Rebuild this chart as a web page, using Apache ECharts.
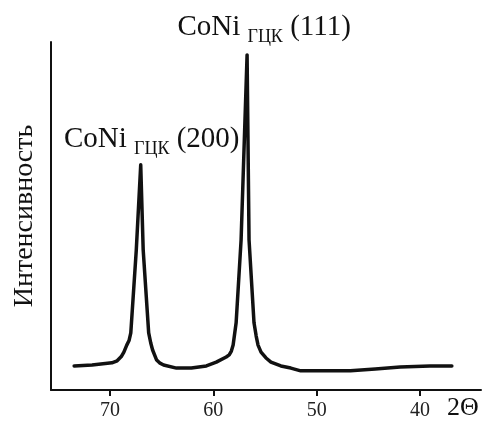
<!DOCTYPE html>
<html>
<head>
<meta charset="utf-8">
<script src="https://cdn.jsdelivr.net/npm/echarts@6/dist/echarts.min.js"></script>
<style>
  html, body { margin: 0; padding: 0; background: #fff; }
  #chart { width: 486px; height: 423px; }
</style>
</head>
<body>
<div id="chart"></div>
<script>
// 2θ (deg) and intensity (arb. units)
const twoTheta = [73.46, 71.73, 69.81, 69.3, 68.9, 68.65, 68.37, 68.15, 67.98, 67.45, 67.02, 66.78, 66.25, 66.05, 65.87, 65.48, 65.2, 64.81, 63.56, 62.12, 60.67, 59.71, 58.75, 58.46, 58.25, 58.08, 57.79, 57.31, 56.73, 56.54, 56.06, 55.85, 55.67, 55.38, 54.9, 54.42, 53.46, 52.5, 51.54, 46.73, 44.33, 41.92, 39.04, 36.92];
const intensity = [6.9, 7.2, 7.8, 8.4, 9.6, 10.9, 12.9, 14.2, 16.4, 40.2, 64.7, 40.2, 16.4, 13.5, 11.5, 8.6, 7.8, 7.2, 6.3, 6.3, 6.9, 8.0, 9.5, 10.1, 11.2, 12.9, 19.3, 43.1, 96.3, 43.1, 19.3, 15.5, 12.9, 10.9, 9.2, 8.0, 6.9, 6.3, 5.5, 5.5, 6.0, 6.6, 6.9, 6.9];
const xTicks = [40, 50, 60, 70];

// peak annotations: [2θ, intensity, hkl]
const peaks = [
  [67.02, 64.7, '(200)'],
  [56.73, 96.3, '(111)']
];

const serif = '"Liberation Serif", "DejaVu Serif", serif';
const ink = '#111';

const chart = echarts.init(document.getElementById('chart'));

const labelRich = {
  a: { fontFamily: serif, fontSize: 29, color: ink, lineHeight: 36 },
  b: { fontFamily: serif, fontSize: 18, color: ink, verticalAlign: 'bottom' }
};

chart.setOption({
  animation: false,
  grid: { left: 51, right: 5, top: 42, bottom: 33 },
  xAxis: {
    type: 'value',
    inverse: true,
    min: 34.1,
    max: 75.7,
    name: '2Θ',
    nameLocation: 'start',
    nameGap: -18,
    nameTextStyle: {
      fontFamily: serif, fontSize: 26, color: ink,
      align: 'center', verticalAlign: 'top', padding: [5, 0, 0, 0]
    },
    axisLine: { lineStyle: { color: ink, width: 2 } },
    axisTick: { length: 6, lineStyle: { color: ink, width: 2 }, customValues: xTicks },
    axisLabel: {
      fontFamily: serif, fontSize: 20, color: '#222', margin: 11,
      customValues: xTicks
    },
    splitLine: { show: false }
  },
  yAxis: {
    type: 'value',
    min: 0,
    max: 100,
    name: 'Интенсивность',
    nameLocation: 'middle',
    nameRotate: 90,
    nameGap: 12,
    nameTextStyle: { fontFamily: serif, fontSize: 28, color: ink },
    axisLine: { show: true, lineStyle: { color: ink, width: 2 } },
    axisTick: { show: false },
    axisLabel: { show: false },
    splitLine: { show: false }
  },
  series: [{
    type: 'line',
    data: twoTheta.map((t, i) => [t, intensity[i]]),
    showSymbol: false,
    lineStyle: { color: ink, width: 3.5, join: 'round', cap: 'round' },
    markPoint: {
      symbol: 'circle',
      symbolSize: 0,
      label: {
        show: true,
        formatter: p => '{a|CoNi }{b|ГЦК}{a| ' + p.name + '}',
        rich: labelRich
      },
      data: peaks.map(p => ({
        name: p[2],
        coord: [p[0], p[1]],
        label: { offset: p[2] === '(111)' ? [17, -27] : [11, -25] }
      }))
    }
  }]
});
</script>
</body>
</html>
